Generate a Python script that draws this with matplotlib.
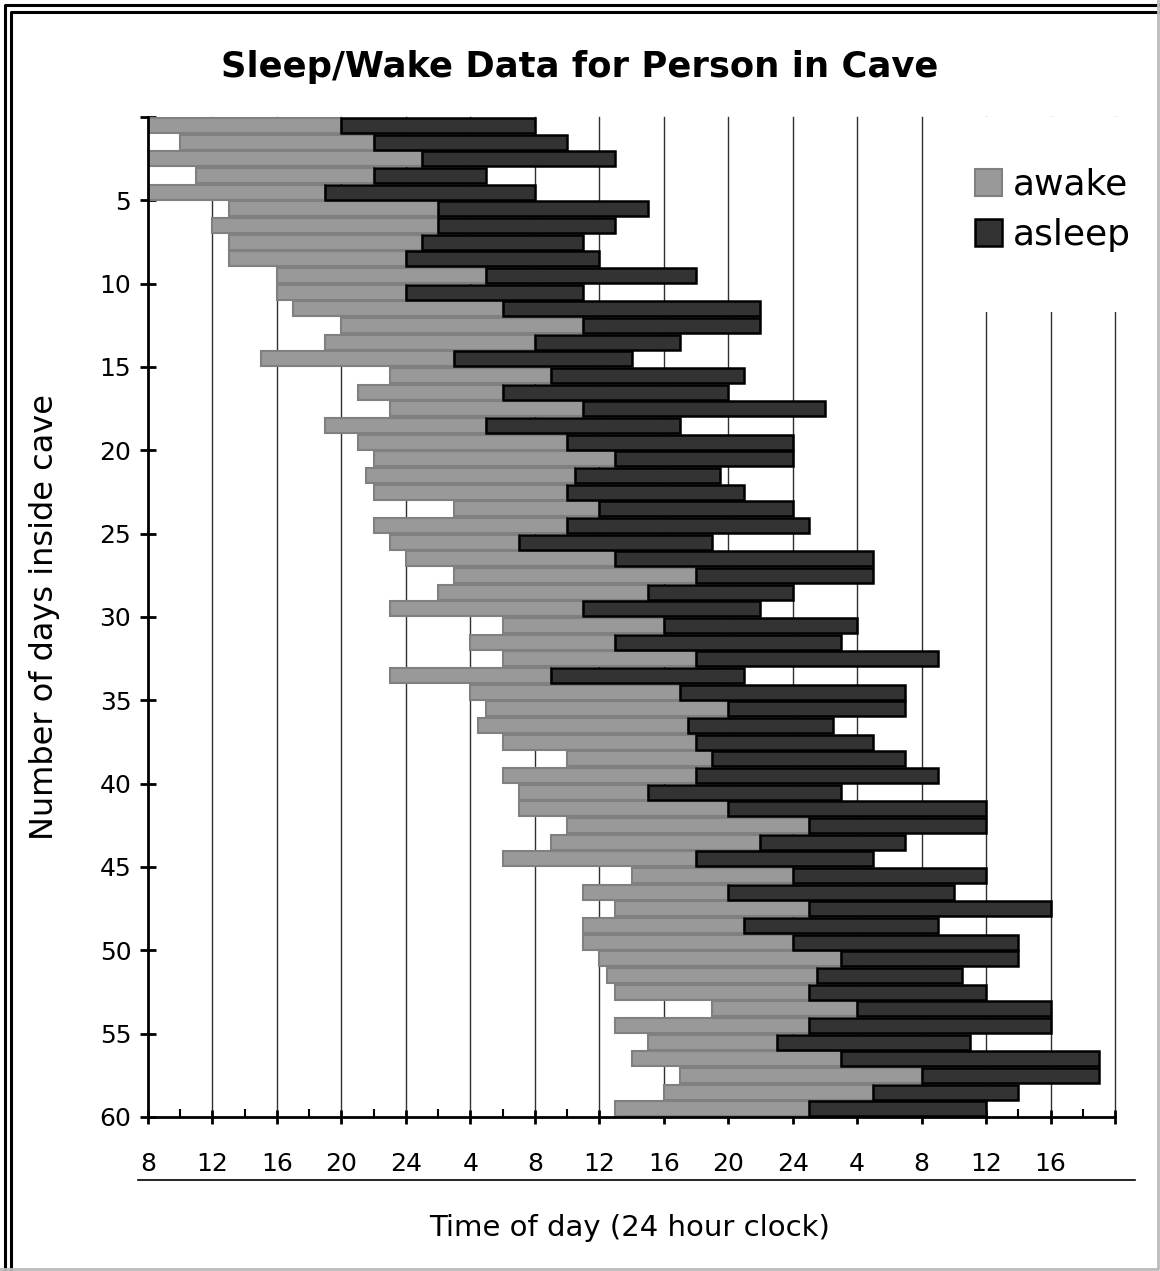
import numpy as np
import matplotlib
matplotlib.use("Agg")
import matplotlib.pyplot as plt
from matplotlib.patches import Rectangle, Patch
from matplotlib.lines import Line2D

# day number inside the cave (1..60)
days = np.arange(1, 61)

# hours on a running clock (8 = 8am of day 1, 32 = 8am next day, ...)
wake_time = [8, 10, 8, 11, 8, 13, 12, 13, 13, 16,
             16, 17, 20, 19, 15, 23, 21, 23, 19, 21,
             22, 21.5, 22, 27, 22, 23, 24, 27, 26, 23,
             30, 28, 30, 23, 28, 29, 28.5, 30, 34, 30,
             31, 31, 34, 33, 30, 38, 35, 37, 35, 35,
             36, 36.5, 37, 43, 37, 39, 38, 41, 40, 37]
sleep_time = [20, 22, 25, 22, 19, 26, 26, 25, 24, 29,
              24, 30, 35, 32, 27, 33, 30, 35, 29, 34,
              37, 34.5, 34, 36, 34, 31, 37, 42, 39, 35,
              40, 37, 42, 33, 41, 44, 41.5, 42, 43, 42,
              39, 44, 49, 46, 42, 48, 44, 49, 45, 48,
              51, 49.5, 49, 52, 49, 47, 51, 56, 53, 49]
wakeup_time = [32, 34, 37, 29, 32, 39, 37, 35, 36, 42,
               35, 46, 46, 41, 38, 45, 44, 50, 41, 48,
               48, 43.5, 45, 48, 49, 43, 53, 53, 48, 46,
               52, 51, 57, 45, 55, 55, 50.5, 53, 55, 57,
               51, 60, 60, 55, 53, 60, 58, 64, 57, 62,
               62, 58.5, 60, 64, 64, 59, 67, 67, 62, 60]

xtick_hours = list(range(8, 69, 4))
xtick_labels = ["8", "12", "16", "20", "24", "4", "8", "12", "16",
                "20", "24", "4", "8", "12", "16", ""]
ytick_days = list(range(0, 61, 5))
ytick_labels = [""] + [str(d) for d in ytick_days[1:]]

W, H = 1160, 1271
fig = plt.figure(figsize=(W / 100, H / 100), dpi=100)
ax = fig.add_axes([148 / W, 1 - 1117 / H, (1115 - 148) / W, 1000 / H])

wake = np.array(wake_time)
sleep = np.array(sleep_time)
wakeup = np.array(wakeup_time)

# vertical grid lines
for x in xtick_hours[1:]:
    ax.axvline(x, color="#303030", lw=1, zorder=1, clip_on=False)

ax.barh(days - 0.5, sleep - wake, left=wake, height=0.9,
        color="#999999", edgecolor="#808080", linewidth=1.5, zorder=3)
ax.barh(days - 0.5, wakeup - sleep, left=sleep, height=0.9,
        color="#333333", edgecolor="black", linewidth=1.8, zorder=3)

ax.set_xlim(8, 68)
ax.set_ylim(60, 0)

ax.set_xticks(xtick_hours)
ax.set_xticklabels(xtick_labels, fontsize=18)
ax.set_xticks(range(8, 69, 2), minor=True)
ax.set_yticks(ytick_days)
ax.set_yticklabels(ytick_labels, fontsize=18)

for s in ["top", "right"]:
    ax.spines[s].set_visible(False)
ax.spines["left"].set_linewidth(2)
ax.spines["bottom"].set_linewidth(2)
ax.spines["left"].set_zorder(4)
ax.spines["bottom"].set_zorder(4)

ax.tick_params(axis="y", direction="inout", length=12, width=2, pad=6)
ax.tick_params(axis="x", which="major", direction="inout", length=10, width=2, pad=20)
ax.tick_params(axis="x", which="minor", direction="in", length=6, width=1.5)

# white box behind the legend hides the grid lines there
ax.add_patch(Rectangle((58.4, 0), 12, 11.7, facecolor="white",
                       edgecolor="none", zorder=2, clip_on=False))

handles = [Patch(facecolor="#999999", edgecolor="#808080", linewidth=1.5),
           Patch(facecolor="#333333", edgecolor="black", linewidth=1.8)]
fig.legend(handles, ["awake", "asleep"], loc="center left",
           bbox_to_anchor=(975 / W, 1 - 210 / H), frameon=False,
           fontsize=26, handlelength=0.75, handleheight=0.75,
           handletextpad=0.3, labelspacing=0.45, borderpad=0,
           borderaxespad=0)

fig.text(580 / W, 1 - 67 / H, "Sleep/Wake Data for Person in Cave",
         ha="center", va="center", fontsize=25.5, fontweight="bold")
fig.text(45 / W, 1 - 617 / H, "Number of days inside cave", rotation=90,
         ha="center", va="center", fontsize=23)
fig.text(630 / W, 1 - 1228 / H, "Time of day (24 hour clock)",
         ha="center", va="center", fontsize=21)

# rule under the tick labels
fig.add_artist(Line2D([138 / W, 1135 / W], [1 - 1180 / H, 1 - 1180 / H],
                      color="black", lw=1.2))

# double frame on top/left, light frame on bottom/right
fig.add_artist(Line2D([5 / W, 5 / W, 1], [0, 1 - 5 / H, 1 - 5 / H],
                      color="black", lw=2.2))
fig.add_artist(Line2D([11 / W, 11 / W, 1], [0, 1 - 12 / H, 1 - 12 / H],
                      color="black", lw=2.2))
fig.add_artist(Line2D([0, 1158 / W, 1158 / W], [2 / H, 2 / H, 1],
                      color="#bbbbbb", lw=2))

fig.savefig("out.png", dpi=100)
